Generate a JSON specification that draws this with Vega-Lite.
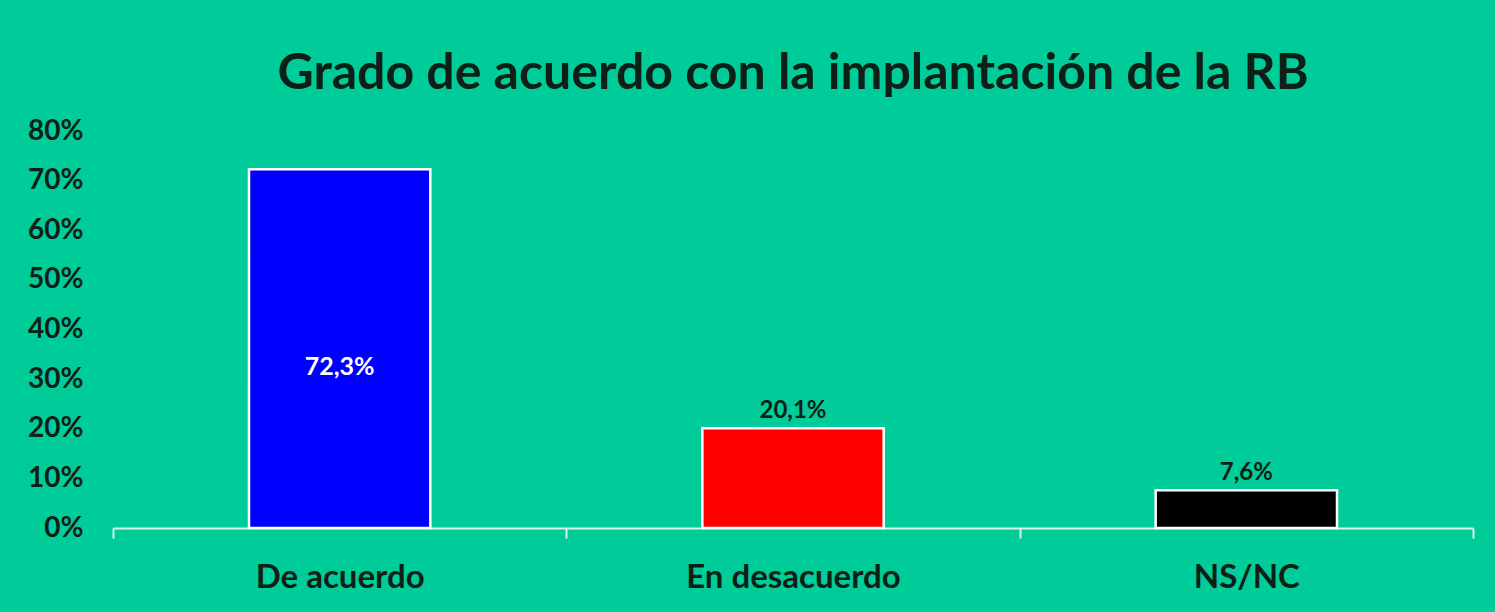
{
  "$schema": "https://vega.github.io/schema/vega-lite/v6.json",
  "autosize": {"type": "none"},
  "width": 1360,
  "height": 397,
  "padding": {"left": 113, "top": 131, "right": 22, "bottom": 84},
  "background": "#00CC99",
  "title": {
    "text": "Grado de acuerdo con la implantación de la RB",
    "fontSize": 50,
    "font": "Lato",
    "fontWeight": "bold",
    "color": "#0d1f17",
    "anchor": "middle",
    "offset": 18
  },
  "data": {
    "values": [
      {"cat": "De acuerdo", "value": 0.723, "label": "72,3%"},
      {"cat": "En desacuerdo", "value": 0.201, "label": "20,1%"},
      {"cat": "NS/NC", "value": 0.076, "label": "7,6%"}
    ]
  },
  "config": {
    "view": {"stroke": null},
    "font": "Lato"
  },
  "encoding": {
    "x": {
      "field": "cat",
      "type": "nominal",
      "sort": null,
      "scale": {"paddingInner": 0, "paddingOuter": 0},
      "axis": {
        "title": null,
        "labelAngle": 0,
        "labelFontSize": 33,
        "labelFontWeight": "bold",
        "labelColor": "#0d1f17",
        "labelFont": "Lato",
        "labelPadding": 23,
        "labelLimit": 500,
        "tickBand": "extent",
        "tickSize": 10,
        "tickColor": "#d8f5ea",
        "tickWidth": 2,
        "domainColor": "#d8f5ea",
        "domainWidth": 2
      }
    },
    "y": {
      "field": "value",
      "type": "quantitative",
      "scale": {"domain": [0, 0.8]},
      "axis": {
        "title": null,
        "format": ".0%",
        "values": [0, 0.1, 0.2, 0.3, 0.4, 0.5, 0.6, 0.7, 0.8],
        "labelOverlap": false,
        "domain": false,
        "ticks": false,
        "grid": false,
        "labelFontSize": 28,
        "labelFontWeight": "bold",
        "labelColor": "#0d1f17",
        "labelFont": "Lato",
        "labelPadding": 30
      }
    }
  },
  "layer": [
    {
      "mark": {"type": "bar", "stroke": "white", "strokeWidth": 2.5, "width": {"band": 0.4}},
      "encoding": {
        "color": {
          "field": "cat",
          "type": "nominal",
          "sort": null,
          "scale": {"range": ["#0000FF", "#FF0000", "#000000"]},
          "legend": null
        }
      }
    },
    {
      "transform": [{"filter": "datum.cat === 'De acuerdo'"}],
      "mark": {"type": "text", "fontSize": 25, "fontWeight": "bold", "color": "white", "baseline": "middle", "dy": 198},
      "encoding": {"text": {"field": "label"}}
    },
    {
      "transform": [{"filter": "datum.cat !== 'De acuerdo'"}],
      "mark": {"type": "text", "fontSize": 24, "fontWeight": "bold", "color": "#0d1f17", "baseline": "middle", "dy": -17},
      "encoding": {"text": {"field": "label"}}
    }
  ]
}
